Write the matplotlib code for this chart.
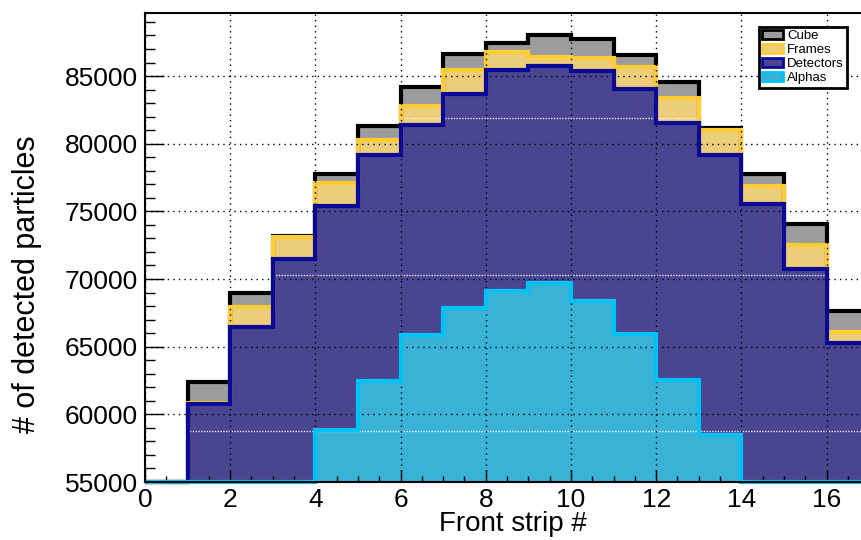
import numpy as np
import matplotlib
matplotlib.use("Agg")
import matplotlib.pyplot as plt
from matplotlib.patches import Patch
from matplotlib.ticker import MultipleLocator

# ---- data (bin contents, bins of width 1 from 0 to 17) ----
bin_edges = list(range(0, 18))
cube      = [0, 62400, 68970, 73200, 77740, 81310, 84220, 86630, 87420, 88040, 87740, 86560, 84590, 81190, 77740, 74050, 67640]
frames    = [0, 60820, 67930, 73070, 77080, 80280, 82790, 85450, 86760, 86430, 86310, 85700, 83360, 81020, 76880, 72520, 66110]
detectors = [0, 60770, 66480, 71460, 75420, 79170, 81360, 83680, 85450, 85770, 85400, 84030, 81550, 79170, 75520, 70720, 65250]
alphas    = [0, 0, 0, 0, 58840, 62460, 65840, 67880, 69140, 69680, 68380, 65940, 62540, 58470, 0, 0, 0]
series_names = ["Cube", "Frames", "Detectors", "Alphas"]
x_ticks = [0, 2, 4, 6, 8, 10, 12, 14, 16]
y_ticks = [55000, 60000, 65000, 70000, 75000, 80000, 85000]

YMIN, YMAX = 55000, 89660
XMIN, XMAX = 0, 17

plt.rcParams['font.family'] = ['Liberation Sans', 'DejaVu Sans']

W, H = 862, 540
fig = plt.figure(figsize=(W / 100, H / 100), dpi=100)
left, right, top, bottom = 145, 145 + 17 * 42.6, 13, 482
ax = fig.add_axes([left / W, 1 - bottom / H, (right - left) / W, (bottom - top) / H])

styles = [
    (cube, "#9c9c9c", "#000000"),
    (frames, "#eccd7a", "#ffcc33"),
    (detectors, "#4a4590", "#0a0a96"),
    (alphas, "#3ab2d6", "#00c3f5"),
]
edges = np.array(bin_edges, dtype=float)
fill_patches = []
for i, (vals, fc, lc) in enumerate(styles):
    v = np.maximum(np.array(vals, dtype=float), YMIN)
    p = ax.stairs(v, edges, baseline=YMIN, fill=True, color=fc, zorder=2 + i * 0.1, linewidth=0)
    fill_patches.append(p)

# faint white texture lines (pattern artefacts) over the filled area
for yv in (58770, 70300, 81900):
    ln = ax.axhline(yv, color='white', linewidth=1.0, linestyle=(0, (1, 1)), alpha=0.85, zorder=2.35)
    ln.set_clip_path(fill_patches[0])

for i, (vals, fc, lc) in enumerate(styles):
    v = np.maximum(np.array(vals, dtype=float), YMIN)
    ax.stairs(v, edges, baseline=YMIN, fill=False, color=lc, linewidth=3.0,
              zorder=2.4 + i * 0.1, clip_on=False)

ax.set_xlim(XMIN, XMAX)
ax.set_ylim(YMIN, YMAX)
ax.set_xticks(x_ticks)
ax.set_yticks(y_ticks)
ax.xaxis.set_minor_locator(MultipleLocator(0.5))
ax.yaxis.set_minor_locator(MultipleLocator(1000))
ax.tick_params(axis='both', which='both', direction='in', labelsize=19, width=1.0, color='black')
ax.tick_params(axis='y', which='major', length=14, pad=5)
ax.tick_params(axis='y', which='minor', length=7)
ax.tick_params(axis='x', which='major', length=9, pad=4)
ax.tick_params(axis='x', which='minor', length=4.5)
ax.set_axisbelow(False)
ax.grid(True, which='major', color='black', linestyle=(0, (1, 3)), linewidth=1.0)
for gl in ax.get_xgridlines() + ax.get_ygridlines():
    gl.set_zorder(1)
for sp in ax.spines.values():
    sp.set_linewidth(1.5)
    sp.set_zorder(5)

ax.set_xlabel("Front strip #", fontsize=20)
ax.set_ylabel("# of detected particles", fontsize=22)
ax.xaxis.set_label_coords((513 - left) / (right - left), -(511 - bottom) / (bottom - top), transform=ax.transAxes)
ax.yaxis.set_label_coords(-(145 - 42) / (right - left), (bottom - 284) / (bottom - top), transform=ax.transAxes)

handles = [Patch(facecolor=fc, edgecolor=lc, linewidth=2.0) for (_, fc, lc) in styles]
leg = ax.legend(handles, series_names, loc='upper left',
                bbox_to_anchor=((759 - left) / (right - left), (bottom - 27) / (bottom - top)),
                borderaxespad=0, fontsize=9.5, frameon=True, fancybox=False, framealpha=1,
                edgecolor='black', handlelength=1.6, handleheight=0.6, handletextpad=0.3,
                labelspacing=0.15, borderpad=0.25)
leg.get_frame().set_linewidth(2.0)
leg.set_zorder(10)

fig.savefig("out.png", dpi=100)
